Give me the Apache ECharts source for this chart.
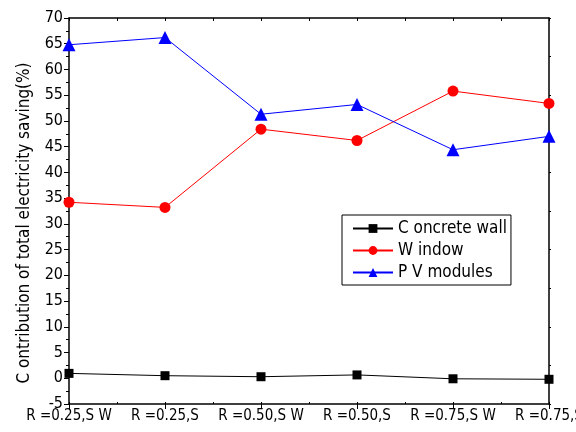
<!DOCTYPE html>
<html>
<head>
<meta charset="utf-8">
<script src="https://cdn.jsdelivr.net/npm/echarts@6/dist/echarts.min.js"></script>
<style>
  html, body { margin: 0; padding: 0; background: #fff; }
  #chart { width: 576px; height: 432px; }
</style>
</head>
<body>
<div id="chart"></div>
<script>
// categories on the x axis
const cases = ['R =0.25,S W', 'R =0.25,S', 'R =0.50,S W', 'R =0.50,S', 'R =0.75,S W', 'R =0.75,S'];

// contribution of each part (%)
const concreteWall = [0.95, 0.5, 0.3, 0.65, -0.1, -0.2];
const windowPart = [34.2, 33.2, 48.4, 46.2, 55.8, 53.4];
const pvModules = [64.8, 66.2, 51.3, 53.2, 44.4, 47.0];

const FONT = '"DejaVu Sans Condensed", "Liberation Sans Narrow", sans-serif';

const chart = echarts.init(document.getElementById('chart'));

const option = {
  animation: false,
  backgroundColor: '#fff',
  textStyle: { fontFamily: FONT },
  grid: { left: 69, right: 27, top: 18, bottom: 28, containLabel: false, outerBoundsMode: 'none' },
  legend: {
    orient: 'vertical',
    left: 342,
    top: 215,
    backgroundColor: '#fff',
    borderColor: '#000',
    borderWidth: 1,
    borderRadius: 0,
    padding: [5, 4, 4, 10],
    itemWidth: 40,
    itemHeight: 11,
    itemGap: 5,
    textStyle: { fontFamily: FONT, fontSize: 17, color: '#000' },
    data: ['C oncrete wall', 'W indow', 'P V modules']
  },
  xAxis: [
    {
      type: 'category',
      data: cases,
      boundaryGap: false,
      position: 'bottom',
      axisLine: { onZero: false, lineStyle: { color: '#000', width: 1.5 } },
      axisTick: { alignWithLabel: true, length: 5, lineStyle: { color: '#000' } },
      axisLabel: { color: '#000', fontSize: 15, fontFamily: FONT, margin: 5, interval: 0 },
      splitLine: { show: false }
    },
    {
      // top spine with ticks at each half category
      type: 'value',
      position: 'top',
      min: 0, max: 10, interval: 1,
      axisLine: { show: true, onZero: false, lineStyle: { color: '#000', width: 1.5 } },
      axisTick: { show: true, inside: true, length: 3, lineStyle: { color: '#000' } },
      axisLabel: { show: false },
      splitLine: { show: false }
    },
    {
      // minor ticks on the bottom axis
      type: 'value',
      position: 'bottom',
      min: 0, max: 10, interval: 1,
      axisLine: { show: false, onZero: false },
      axisTick: { show: true, inside: true, length: 2, lineStyle: { color: '#000' } },
      axisLabel: { show: false },
      splitLine: { show: false }
    }
  ],
  yAxis: [
    {
      type: 'value',
      min: -5, max: 70, interval: 5,
      name: 'C ontribution of total electricity saving(%)',
      nameLocation: 'middle',
      nameGap: 36,
      nameTextStyle: { color: '#000', fontSize: 17, fontFamily: FONT, padding: [0, 24, 0, 0] },
      axisLine: { show: true, onZero: false, lineStyle: { color: '#000', width: 1.5 } },
      axisTick: { show: true, length: 5, lineStyle: { color: '#000' } },
      minorTick: { show: true, splitNumber: 2, length: 3, lineStyle: { color: '#000' } },
      axisLabel: { color: '#000', fontSize: 16, fontFamily: FONT, margin: 6 },
      splitLine: { show: false }
    },
    {
      // right spine
      type: 'value',
      position: 'right',
      min: 0, max: 10, interval: 1,
      axisLine: { show: true, onZero: false, lineStyle: { color: '#000', width: 1.5 } },
      axisTick: { show: true, length: 2, lineStyle: { color: '#000' } },
      axisLabel: { show: false },
      splitLine: { show: false }
    }
  ],
  series: [
    {
      name: 'C oncrete wall',
      type: 'line',
      data: concreteWall,
      symbol: 'rect',
      symbolSize: 9,
      color: '#000',
      lineStyle: { width: 1, color: '#000' },
      itemStyle: { color: '#000' }
    },
    {
      name: 'W indow',
      type: 'line',
      data: windowPart,
      symbol: 'circle',
      symbolSize: 11,
      color: '#ff0000',
      lineStyle: { width: 1, color: '#ff0000' },
      itemStyle: { color: '#ff0000' }
    },
    {
      name: 'P V modules',
      type: 'line',
      data: pvModules,
      symbol: 'triangle',
      symbolSize: 13,
      color: '#0000ff',
      lineStyle: { width: 1, color: '#0000ff' },
      itemStyle: { color: '#0000ff' }
    }
  ]
};

chart.setOption(option);
</script>
</body>
</html>
